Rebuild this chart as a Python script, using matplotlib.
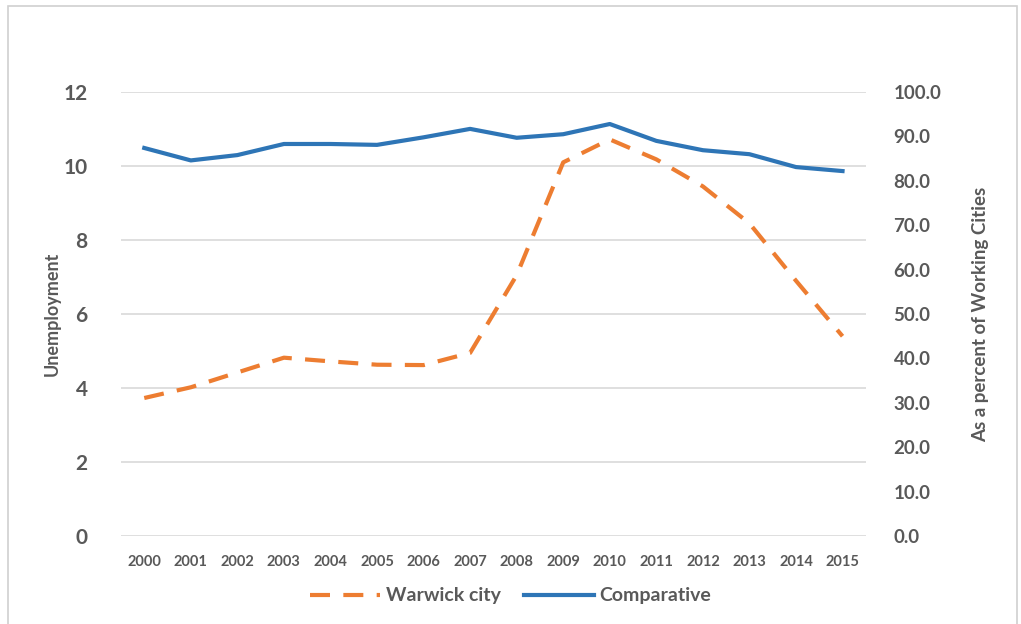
import matplotlib.pyplot as plt
from matplotlib.patches import Rectangle

years = ["2000", "2001", "2002", "2003", "2004", "2005", "2006", "2007",
         "2008", "2009", "2010", "2011", "2012", "2013", "2014", "2015"]
# unemployment rate, Warwick city (left axis)
warwick = [3.73, 4.02, 4.42, 4.82, 4.72, 4.63, 4.62, 4.95,
           7.05, 10.1, 10.72, 10.18, 9.45, 8.45, 6.9, 5.4]
# comparative, percent of working cities (right axis)
comparative = [87.4, 84.6, 85.8, 88.3, 88.3, 88.1, 89.8, 91.7,
               89.7, 90.5, 92.8, 89.0, 86.9, 86.0, 83.1, 82.2]

plt.rcParams['font.family'] = ['Lato', 'DejaVu Sans']
txt = '#595959'

fig = plt.figure(figsize=(10.21, 6.24), dpi=100)
ax = fig.add_axes([0.1185, 0.141, 0.7295, 0.7115])
ax2 = ax.twinx()

x = list(range(len(years)))
ax.plot(x, warwick, color='#ED7D31', lw=3, ls=(0, (4.8, 3.2)), label='Warwick city')
ax2.plot(x, comparative, color='#2E75B6', lw=3, label='Comparative')

ax.set_xlim(-0.5, len(years) - 0.5)
ax.set_ylim(0, 12)
ax.set_yticks(range(0, 13, 2))
ax2.set_ylim(0, 100)
ax2.set_yticks(range(0, 101, 10))
ax2.set_yticklabels([f"{v:.1f}" for v in range(0, 101, 10)])
ax.set_xticks(x)
ax.set_xticklabels(years)

ax.grid(axis='y', color='#D9D9D9', lw=1.2)
ax.set_axisbelow(True)
for a in (ax, ax2):
    for s in a.spines.values():
        s.set_visible(False)
    a.tick_params(length=0, colors=txt)
ax.tick_params(axis='y', labelsize=15, pad=24)
ax.tick_params(axis='x', labelsize=10.5, pad=14)
ax2.tick_params(axis='y', labelsize=13.5, pad=20)
for lab in ax.get_yticklabels() + ax.get_xticklabels() + ax2.get_yticklabels():
    lab.set_fontweight('bold')

ax.set_ylabel('Unemployment', fontsize=13, color=txt, fontweight='bold', labelpad=2)
ax2.set_ylabel('As a percent of Working Cities', fontsize=13.5, color=txt,
               fontweight='bold', labelpad=22)

h1, l1 = ax.get_legend_handles_labels()
h2, l2 = ax2.get_legend_handles_labels()
fig.legend(h1 + h2, l1 + l2, loc='center', bbox_to_anchor=(0.5, 0.045), ncol=2,
           frameon=False, handlelength=3.6, handletextpad=0.3, columnspacing=1.2,
           labelcolor=txt, prop={'weight': 'bold', 'size': 14})

fig.patches.append(Rectangle((0.008, -0.01), 0.988, 1.0, transform=fig.transFigure,
                             fill=False, edgecolor='#D0D0D0', lw=1.2))

fig.savefig('out.png', dpi=100)
